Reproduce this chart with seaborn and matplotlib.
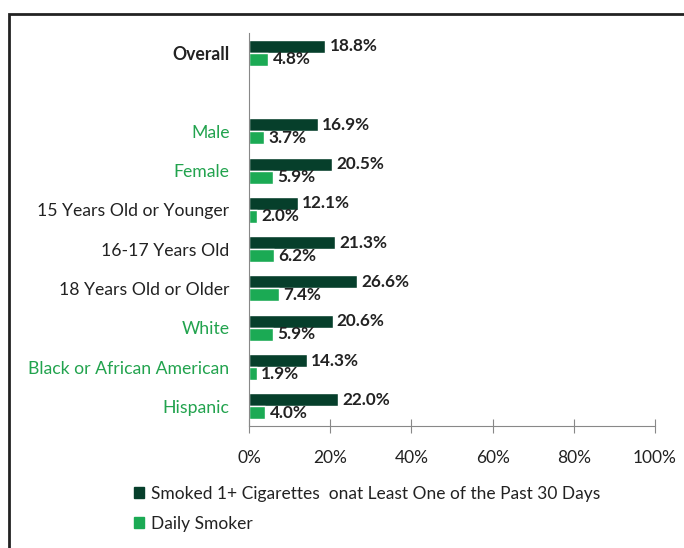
import matplotlib
matplotlib.use("Agg")
import matplotlib.pyplot as plt
import matplotlib.patches as mpatches
import seaborn as sns
import pandas as pd

categories = ["Overall", "Male", "Female", "15 Years Old or Younger", "16-17 Years Old",
              "18 Years Old or Older", "White", "Black or African American", "Hispanic"]
smoked_30days = [18.8, 16.9, 20.5, 12.1, 21.3, 26.6, 20.6, 14.3, 22.0]
daily_smoker = [4.8, 3.7, 5.9, 2.0, 6.2, 7.4, 5.9, 1.9, 4.0]
series_names = ["Smoked 1+ Cigarettes  onat Least One of the Past 30 Days", "Daily Smoker"]
x_ticks = [0, 20, 40, 60, 80, 100]

green_labels = {"Male", "Female", "White", "Black or African American", "Hispanic"}
DARK = "#063F2B"
LIGHT = "#1BAA54"
LABEL_GREEN = "#22A34E"
TEXT = "#222222"

sns.set_theme(style="white")
plt.rcParams["font.family"] = ["Lato", "DejaVu Sans"]

df = pd.DataFrame({
    "Category": categories * 2,
    "Value": smoked_30days + daily_smoker,
    "Series": [series_names[0]] * len(categories) + [series_names[1]] * len(categories),
})
order = [categories[0], " "] + categories[1:]

fig = plt.figure(figsize=(6.84, 5.48), dpi=100)
ax = fig.add_axes([249 / 684, 1 - 426 / 548, (655 - 249) / 684, (426 - 33) / 548])

sns.barplot(data=df, y="Category", x="Value", hue="Series", order=order,
            hue_order=series_names, palette=[DARK, LIGHT], orient="h",
            width=0.66, saturation=1, ax=ax, legend=False)

for c in ax.containers:
    ax.bar_label(c, labels=[f"{v:.1f}%" for v in c.datavalues], padding=3,
                 fontsize=12.3, fontweight="bold", color=TEXT)

ax.set_xlim(0, 100)
ax.set_xticks(x_ticks)
ax.set_xticklabels([f"{t}%" for t in x_ticks])
ax.set_xlabel("")
ax.set_ylabel("")
ax.tick_params(axis="x", direction="inout", length=10, width=0.8, color="#888888",
               labelsize=12.5, labelcolor=TEXT, pad=12, bottom=True)
ax.tick_params(axis="y", length=0, labelsize=12.7, pad=14)
for lab in ax.get_yticklabels():
    t = lab.get_text()
    if t == "Overall":
        lab.set_fontweight("bold")
        lab.set_color(TEXT)
    elif t in green_labels:
        lab.set_color(LABEL_GREEN)
    else:
        lab.set_color(TEXT)

for s in ["top", "right"]:
    ax.spines[s].set_visible(False)
for s in ["left", "bottom"]:
    ax.spines[s].set_color("#888888")
    ax.spines[s].set_linewidth(0.8)

handles = [mpatches.Patch(color=DARK, label=series_names[0]),
           mpatches.Patch(color=LIGHT, label=series_names[1])]
fig.legend(handles=handles, loc="upper left", bbox_to_anchor=(134 / 684, 1 - 486 / 548),
           frameon=False, fontsize=12.5, handlelength=0.6, handleheight=0.6,
           handletextpad=0.4, labelspacing=0.8, borderpad=0, borderaxespad=0,
           labelcolor=TEXT)

frame = mpatches.Rectangle((9 / 684, -0.1), 1.2, 1 - 14 / 548 + 0.1,
                           transform=fig.transFigure, fill=False, edgecolor="#222222",
                           linewidth=2, clip_on=False)
fig.add_artist(frame)

fig.savefig("out.png", dpi=100)
